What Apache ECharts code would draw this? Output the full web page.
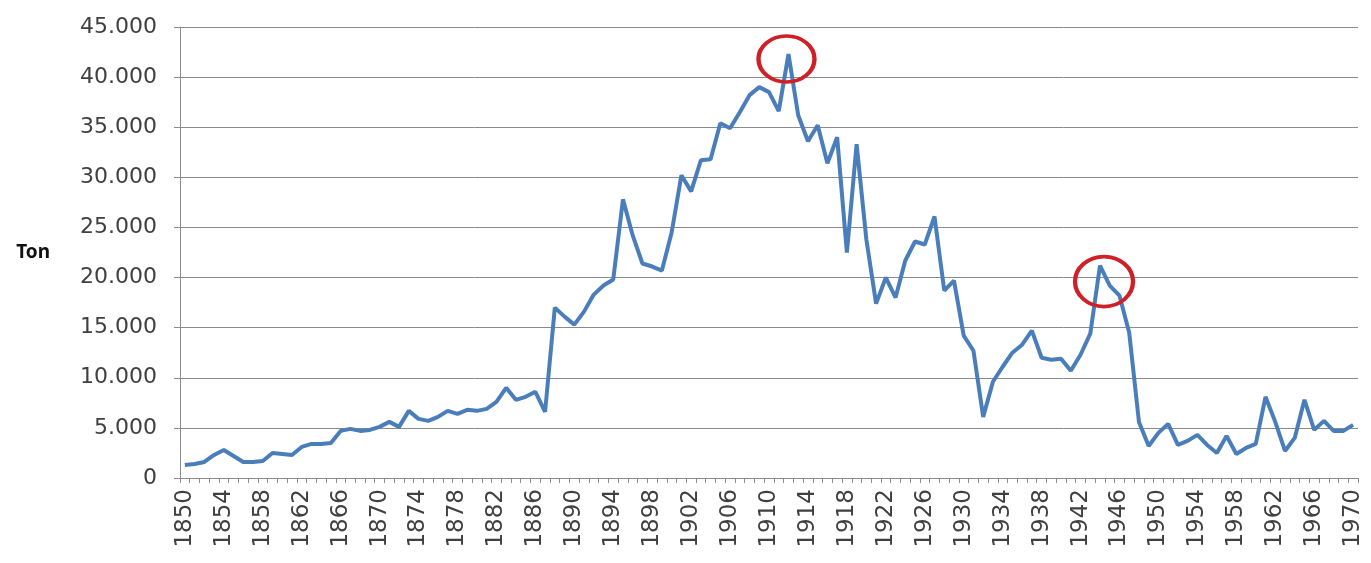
<!DOCTYPE html>
<html>
<head>
<meta charset="utf-8">
<script src="https://cdn.jsdelivr.net/npm/echarts@6/dist/echarts.min.js"></script>
<style>
html,body{margin:0;padding:0;background:#fff;}
#chart{width:1371px;height:563px;}
</style>
</head>
<body>
<div id="chart"></div>
<script>
const years = [];
for (let y = 1850; y <= 1970; y++) years.push(String(y));

const tons = [
 1300,1400,1600,2300,2800,2200,1600,1600,1700,2500,
 2400,2300,3100,3400,3400,3500,4700,4900,4700,4800,
 5100,5600,5100,6700,5900,5700,6100,6700,6400,6800,
 6700,6900,7600,9000,7800,8100,8600,6600,17000,16100,
 15300,16600,18300,19200,19800,27800,24200,21400,21100,20700,
 24500,30200,28600,31700,31800,35400,34900,36500,38200,39000,
 38500,36600,42300,36200,33600,35200,31400,34000,22500,33300,
 23800,17400,20000,18000,21700,23600,23300,26100,18700,19700,
 14200,12700,6100,9600,11100,12500,13300,14700,12000,11800,
 11900,10700,12300,14400,21200,19200,18200,14500,5600,3200,
 4500,5400,3300,3700,4300,3300,2500,4200,2400,3000,
 3400,8100,5600,2700,4000,7800,4800,5700,4700,4700,
 5300
];

const yTicks = [0,5000,10000,15000,20000,25000,30000,35000,40000,45000];
const highlightYears = ['1912','1944'];

function fmt(v){ return String(v).replace(/\B(?=(\d{3})+(?!\d))/g,'.'); }

const ellipse = 'path://M0,50A50,50 0 1,1 100,50A50,50 0 1,1 0,50Z';

const chart = echarts.init(document.getElementById('chart'));
chart.setOption({
  backgroundColor:'#fff',
  animation:false,
  grid:{left:180,right:13,top:27,bottom:85,containLabel:false},
  xAxis:{
    type:'category',
    data:years,
    boundaryGap:true,
    axisLine:{lineStyle:{color:'#8c8c8c',width:1}},
    axisTick:{show:true,interval:0,length:5,lineStyle:{color:'#8c8c8c'}},
    axisLabel:{interval:3,rotate:90,fontSize:23,color:'#404040',fontFamily:'DejaVu Sans',margin:11}
  },
  yAxis:{
    type:'value',
    min:yTicks[0],max:yTicks[yTicks.length-1],interval:5000,
    name:'Ton',nameLocation:'middle',nameRotate:0,nameGap:130,
    nameTextStyle:{fontSize:19,fontWeight:'bold',color:'#111',fontFamily:'Noto Sans',padding:[6,0,0,0]},
    axisLine:{show:true,lineStyle:{color:'#8c8c8c'}},
    axisTick:{show:true,length:6,lineStyle:{color:'#8c8c8c'}},
    axisLabel:{fontSize:22,color:'#404040',fontFamily:'DejaVu Sans',margin:23,formatter:fmt},
    splitLine:{lineStyle:{color:'#8a8a8a',width:1}}
  },
  series:[{
    type:'line',
    data:tons,
    symbol:'none',
    lineStyle:{color:'#4a7ebb',width:4},
    itemStyle:{color:'#4a7ebb'},
    markPoint:{
      silent:true,
      label:{show:false},
      data:[
        {coord:[highlightYears[0],tons[years.indexOf(highlightYears[0])]],symbol:ellipse,symbolSize:[56,46],symbolOffset:[-2,5],
         itemStyle:{color:'rgba(0,0,0,0)',borderColor:'#cf2027',borderWidth:4}},
        {coord:[highlightYears[1],tons[years.indexOf(highlightYears[1])]],symbol:ellipse,symbolSize:[58,50],symbolOffset:[4,16],
         itemStyle:{color:'rgba(0,0,0,0)',borderColor:'#cf2027',borderWidth:4}}
      ]
    }
  }]
});
</script>
</body>
</html>
